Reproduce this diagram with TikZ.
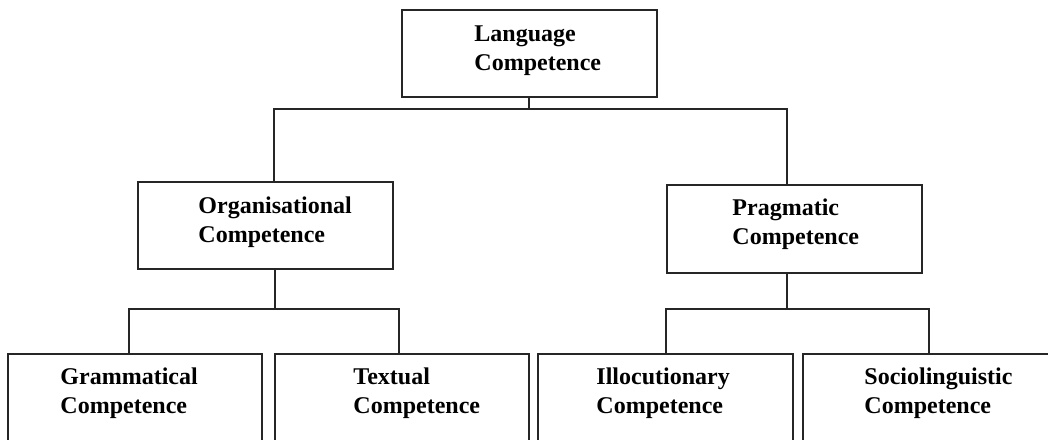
\documentclass[tikz,border=0pt]{standalone}
\usepackage{fontspec}
\setmainfont{Liberation Serif}
\begin{document}
\begin{tikzpicture}[x=1pt,y=-1pt,
  box/.style={draw=black!85, line width=1.5pt, rectangle, inner sep=0pt,
              minimum width=255pt, minimum height=87pt},
  lowbox/.style={box, minimum height=140pt},
  conn/.style={draw=black!85, line width=1.5pt},
  lbl/.style={anchor=base west, align=left, inner sep=0pt,
              font=\fontsize{24}{29}\selectfont\bfseries}]
\clip (0,0) rectangle (1048,439);
\fill[white] (0,0) rectangle (1048,439);

% boxes
\node[box] (lang) at (529.5,53.5) {};
\node[box] (org)  at (265.5,225.5) {};
\node[box, minimum height=88pt] (prag) at (794.5,229) {};
\node[lowbox, minimum width=254pt] (gram)  at (135,424) {};
\node[lowbox, minimum width=254pt] (textl) at (402,424) {};
\node[lowbox] (illoc) at (665.5,424) {};
\node[lowbox] (socio) at (930.5,424) {};

% labels (anchored at the baseline of the second line)
\node[lbl] at ([shift={(73,61)}]lang.north west) {Language\\Competence};
\node[lbl] at ([shift={(61,61)}]org.north west) {Organisational\\Competence};
\node[lbl] at ([shift={(66,60)}]prag.north west) {Pragmatic\\Competence};
\node[lbl] at ([shift={(53,60)}]gram.north west) {Grammatical\\Competence};
\node[lbl] at ([shift={(79,60)}]textl.north west) {Textual\\Competence};
\node[lbl] at ([shift={(59,60)}]illoc.north west) {Illocutionary\\Competence};
\node[lbl] at ([shift={(62,60)}]socio.north west) {Sociolinguistic\\Competence};

% connectors
\draw[conn] ([xshift=-0.5pt]lang.south) -- ++(0,11) coordinate (j1);
\draw[conn] ([xshift=8.5pt]org.north) |- (j1) -| ([xshift=-7.5pt]prag.north);
\draw[conn] ([xshift=9.5pt]org.south) -- ++(0,39) coordinate (j2);
\draw[conn] ([xshift=-6pt]gram.north) |- (j2) -| ([xshift=-3pt]textl.north);
\draw[conn] ([xshift=-7.5pt]prag.south) -- ++(0,35) coordinate (j3);
\draw[conn] ([xshift=0.5pt]illoc.north) |- (j3) -| ([xshift=-1.5pt]socio.north);
\end{tikzpicture}
\end{document}
